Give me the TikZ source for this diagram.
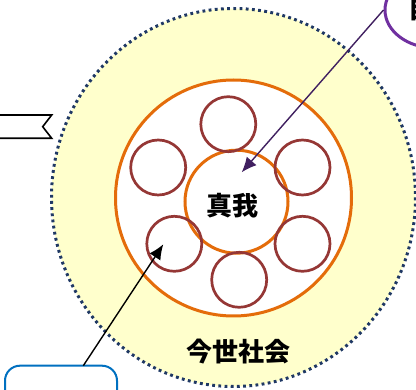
\documentclass[tikz,border=0pt]{standalone}
\usepackage{fontspec}
\newfontfamily\jp{Noto Sans CJK JP}
\usetikzlibrary{arrows.meta,shapes.geometric}
\definecolor{ylfill}{RGB}{255,255,204}
\definecolor{navydot}{RGB}{31,56,100}
\definecolor{orng}{RGB}{228,108,10}
\definecolor{maroon}{RGB}{149,55,53}
\definecolor{purp}{RGB}{112,48,160}
\definecolor{darkpurp}{RGB}{64,32,96}
\definecolor{bluebox}{RGB}{0,112,192}
\tikzset{
  society/.style={draw=navydot, fill=ylfill, line width=3pt, dash pattern=on 2.8pt off 3.4pt},
  ring/.style={draw=orng, line width=3pt, fill=white},
  petal/.style={circle, draw=maroon, line width=2.7pt, minimum size=55pt, inner sep=0pt},
  lbl/.style={font=\jp\bfseries\fontsize{26}{26}\selectfont, inner sep=0pt},
  pointer/.style={line width=1.4pt, -{Latex[length=15pt,width=13pt]}},
}
\begin{document}
\begin{tikzpicture}[x=1pt,y=-1pt]
\useasboundingbox (0,0) rectangle (416,390);
\clip (0,0) rectangle (416,390);
% outer society ellipse
\draw[society] (233.5,197.5) ellipse [x radius=182, y radius=189];
% big orange ring
\draw[ring] (233.5,198) circle [radius=118];
% inner orange
\node[circle, draw=orng, line width=3pt, fill=white, minimum size=103pt, inner sep=0pt] (core) at (236.5,201.7) {};
% petals
\node[petal] (p1) at (228.3,124.2) {};
\node[petal] (p2) at (158.2,167.5) {};
\node[petal] (p3) at (302.5,167.5) {};
\node[petal] (p4) at (174.3,243.8) {};
\node[petal] (p5) at (302.5,243.8) {};
\node[petal] (p6) at (239.2,279.8) {};
% labels
\node[lbl] (zhenwo) at (232.5,206) {真我};
\node[lbl] (society) at (238.5,351.7) {今世社会};
% flag on left
\draw[line width=1.6pt, fill=white] (-10,115) -- (51.7,115) -- (42.7,126.7) -- (51.7,138.3) -- (-10,138.3);
% top-right purple ellipse
\node[ellipse, draw=purp, line width=3pt, fill=white, minimum width=100pt, minimum height=76pt, inner sep=0pt] (ego) at (435,10) {};
\node[lbl] (egotxt) at (434,9) {自我};
% bottom-left blue box
\node[draw=bluebox, line width=2pt, rounded corners=15pt, fill=white, minimum width=112pt, minimum height=70pt, inner sep=0pt] (box) at (61,400.7) {};
\coordinate (boxout) at (83.3,365.7);
\coordinate (tipA) at (241.7,172.3);
\coordinate (tipB) at (163.3,244.3);
\draw[pointer, darkpurp] (ego.west) -- (tipA);
\draw[pointer, black] (boxout) -- (tipB);
\end{tikzpicture}
\end{document}
